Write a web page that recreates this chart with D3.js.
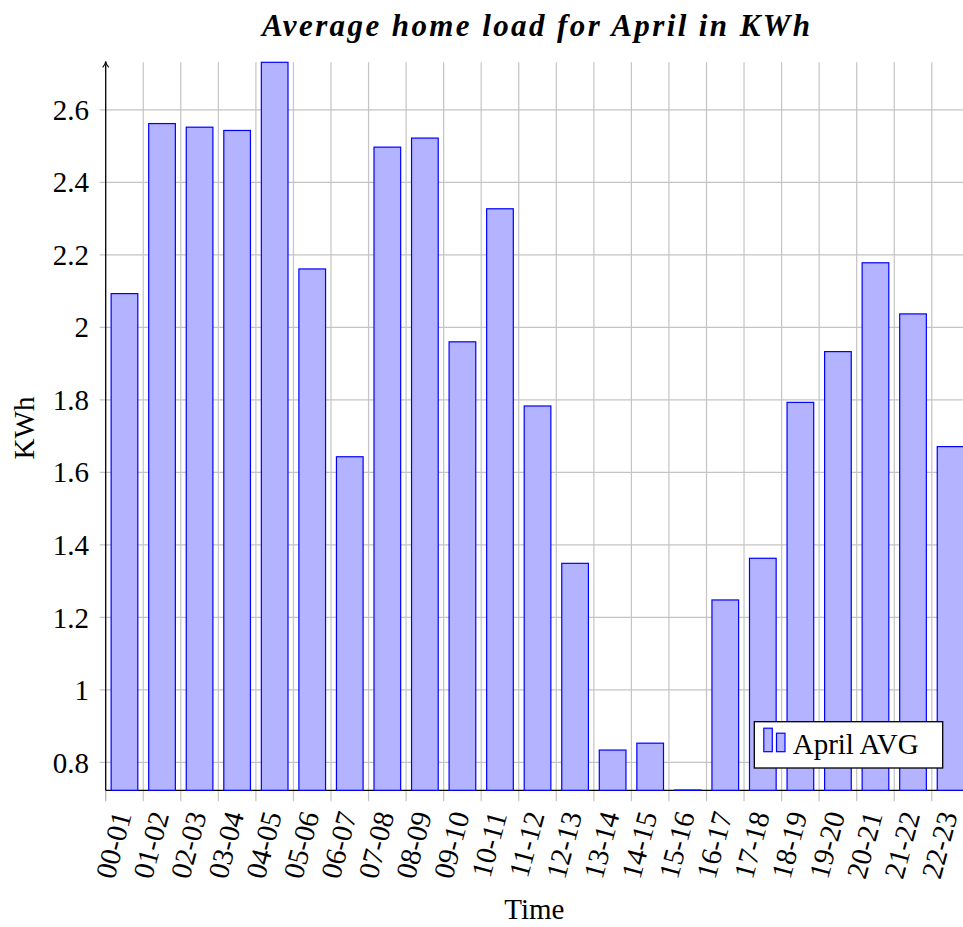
<!DOCTYPE html>
<html>
<head>
<meta charset="utf-8">
<script src="https://cdn.jsdelivr.net/npm/d3@7"></script>
<style>
  body { margin: 0; background: #fff; }
  text { font-family: "Liberation Serif", "Times New Roman", serif; fill: #000; }
</style>
</head>
<body>
<svg id="chart"></svg>
<script>
var hours = ["00-01","01-02","02-03","03-04","04-05","05-06","06-07","07-08","08-09","09-10","10-11","11-12",
             "12-13","13-14","14-15","15-16","16-17","17-18","18-19","19-20","20-21","21-22","22-23"];
var aprilAvg = [2.093, 2.562, 2.552, 2.543, 2.731, 2.161, 1.643, 2.497, 2.522, 1.960, 2.327, 1.783,
                1.349, 0.834, 0.853, 0.723, 1.248, 1.363, 1.793, 1.933, 2.178, 2.037, 1.671];
var yTicks = [0.8, 1, 1.2, 1.4, 1.6, 1.8, 2, 2.2, 2.4, 2.6];

var width = 963, height = 927;
var svg = d3.select("#chart").attr("width", width).attr("height", height);

// plot box (the right end runs off the page, as in the original)
var pLeft = 105.7, pBottom = 790.3, pTop = 62.3, pRight = 963;
var step = 37.55;

// one slot more than there are hours so the last bar gets cut at the page edge
var x = d3.scaleBand()
    .domain(hours.concat(["23-24"]))
    .range([pLeft, pLeft + 24 * step])
    .paddingInner(0.29)
    .paddingOuter(0.145);
var y = d3.scaleLinear()
    .domain([d3.min(aprilAvg), d3.max(aprilAvg)])
    .range([pBottom, pTop]);

svg.append("defs").append("clipPath").attr("id", "plotclip")
  .append("rect").attr("x", pLeft).attr("y", pTop - 2).attr("width", pRight - pLeft).attr("height", pBottom - pTop + 4);

// grid
var grid = svg.append("g").attr("stroke", "#c4c4c4").attr("stroke-width", 1.2);
grid.selectAll("line.h").data(yTicks).enter().append("line")
    .attr("x1", pLeft - 6).attr("x2", pRight)
    .attr("y1", d => y(d)).attr("y2", d => y(d));
var edges = d3.range(1, 24).map(i => pLeft + i * x.step()).filter(v => v < pRight);
grid.selectAll("line.v").data(edges).enter().append("line")
    .attr("x1", d => d).attr("x2", d => d)
    .attr("y1", pTop).attr("y2", pBottom + 11);
svg.append("line").attr("stroke", "#b0b0b0").attr("stroke-width", 1.2)
    .attr("x1", pLeft).attr("x2", pLeft).attr("y1", pBottom).attr("y2", pBottom + 11);

// axes (under the bars, so the bar outlines show along the bottom)
svg.append("line").attr("stroke", "#000").attr("stroke-width", 1.3)
    .attr("x1", pLeft).attr("x2", pRight).attr("y1", pBottom).attr("y2", pBottom);
svg.append("line").attr("stroke", "#000").attr("stroke-width", 1.3)
    .attr("x1", pLeft).attr("x2", pLeft).attr("y1", pBottom).attr("y2", pTop + 2);
svg.append("path").attr("fill", "none").attr("stroke", "#000").attr("stroke-width", 1.2)
    .attr("d", "M" + (pLeft - 3) + "," + (pTop + 5) + " Q" + pLeft + "," + (pTop + 2) + " " + pLeft + "," + (pTop - 1) +
               " Q" + pLeft + "," + (pTop + 2) + " " + (pLeft + 3) + "," + (pTop + 5));

// bars (the 15-16 one is the minimum, so it is only an outline on the axis)
svg.append("g").attr("clip-path", "url(#plotclip)")
  .selectAll("rect").data(hours).enter().append("rect")
    .attr("x", d => x(d))
    .attr("width", x.bandwidth())
    .attr("y", (d, i) => Math.min(y(aprilAvg[i]), pBottom - 0.3))
    .attr("height", (d, i) => Math.max(pBottom - y(aprilAvg[i]), 0.3))
    .attr("fill", "#b3b3ff")
    .attr("stroke", "#0000ff")
    .attr("stroke-width", 1.2);

// y tick labels
svg.selectAll("text.ytick").data(yTicks).enter().append("text")
    .attr("x", 89).attr("y", d => y(d))
    .attr("dy", "0.35em")
    .attr("text-anchor", "end")
    .style("font-size", "29px")
    .text(d => d);

// x tick labels, turned like pgfplots rotate=75, anchor=east
svg.selectAll("text.xtick").data(hours).enter().append("text")
    .attr("transform", d => "translate(" + (x(d) + x.bandwidth() / 2 - 2) + "," + (pBottom + 22) + ") rotate(-75)")
    .attr("text-anchor", "end")
    .attr("dy", "0.33em")
    .style("font-size", "29px")
    .text(d => d);

// axis titles
svg.append("text").attr("x", (pLeft + pRight) / 2).attr("y", 919)
    .attr("text-anchor", "middle").style("font-size", "29px").text("Time");
svg.append("text").attr("transform", "translate(34,428) rotate(-90)")
    .attr("text-anchor", "middle").style("font-size", "29px").text("KWh");

svg.append("text").attr("x", 536).attr("y", 36)
    .attr("text-anchor", "middle")
    .attr("textLength", 548).attr("lengthAdjust", "spacing")
    .style("font-size", "31px").style("font-weight", "bold").style("font-style", "italic")
    .text("Average home load for April in KWh");

// legend
var lg = svg.append("g");
lg.append("rect").attr("x", 754.3).attr("y", 721.7).attr("width", 188.4).attr("height", 46.3)
    .attr("fill", "#fff").attr("stroke", "#000").attr("stroke-width", 1.3);
lg.append("rect").attr("x", 763.8).attr("y", 728.2).attr("width", 8.5).attr("height", 23.5)
    .attr("fill", "#b3b3ff").attr("stroke", "#0000ff").attr("stroke-width", 1.2);
lg.append("rect").attr("x", 776.5).attr("y", 733.2).attr("width", 8.5).attr("height", 18.5)
    .attr("fill", "#b3b3ff").attr("stroke", "#0000ff").attr("stroke-width", 1.2);
lg.append("text").attr("x", 792.7).attr("y", 753.5)
    .style("font-size", "29px").text("April AVG");
</script>
</body>
</html>
